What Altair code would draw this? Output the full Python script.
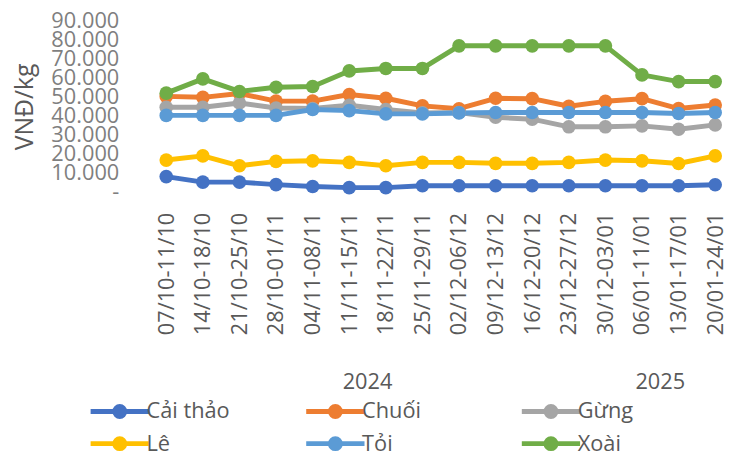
import altair as alt
import pandas as pd

categories = ["07/10-11/10", "14/10-18/10", "21/10-25/10", "28/10-01/11", "04/11-08/11",
              "11/11-15/11", "18/11-22/11", "25/11-29/11", "02/12-06/12", "09/12-13/12",
              "16/12-20/12", "23/12-27/12", "30/12-03/01", "06/01-11/01", "13/01-17/01",
              "20/01-24/01"]

series_names = ["Cải thảo", "Chuối", "Gừng", "Lê", "Tỏi", "Xoài"]
series_colors = ["#4472C4", "#ED7D31", "#A5A5A5", "#FFC000", "#5B9BD5", "#70AD47"]

cai_thao = [7800, 4900, 4900, 3600, 2600, 2000, 2000, 3000, 3000, 3000, 3000, 3000, 3000, 3000, 3000, 3500]
chuoi = [50000, 49500, 51500, 47500, 47500, 51000, 49000, 45000, 43500, 49000, 48800, 44800, 47400, 48800, 43600, 45500]
gung = [44300, 44300, 46500, 43900, 43600, 45300, 43100, 41300, 41500, 39000, 38000, 34000, 34000, 34500, 32700, 35000]
le = [16500, 18700, 13500, 15800, 16100, 15300, 13500, 15300, 15300, 14800, 14800, 15300, 16500, 16100, 14700, 18700]
toi = [40000, 40000, 40000, 40000, 43100, 42500, 40800, 40800, 41300, 41500, 41500, 41500, 41500, 41500, 41000, 41500]
xoai = [51700, 59200, 52600, 54800, 55200, 63400, 64700, 64700, 76600, 76600, 76600, 76600, 76600, 61300, 57800, 57800]

years = ["2024", "2025"]
year_pos = [5.5, 13.5]   # centre of the category span of each year

all_series = [cai_thao, chuoi, gung, le, toi, xoai]
rows = []
for name, vals in zip(series_names, all_series):
    for i, v in enumerate(vals):
        rows.append({"idx": i, "cat": categories[i], "series": name, "value": v})
df = pd.DataFrame(rows)
year_df = pd.DataFrame({"year": years, "pos": year_pos})

FONT = "Open Sans"
label_expr_x = "[" + ",".join("'" + c + "'" for c in categories) + "][datum.value]"

x_scale = alt.Scale(domain=[-0.4865, 15.35], nice=False, zero=False)

legend_symbol = ("M-3.93,0H3.93"
                 "M-0.667,0A0.667,0.667,0,1,0,0.667,0A0.667,0.667,0,1,0,-0.667,0Z"
                 "M-0.333,0A0.333,0.333,0,1,0,0.333,0A0.333,0.333,0,1,0,-0.333,0Z")

x_axis = alt.Axis(values=list(range(len(categories))), labelExpr=label_expr_x,
                  labelAngle=-90, labelPadding=21, ticks=False, tickSize=0,
                  domain=False, grid=False, labelOverlap=False, labelFlush=False,
                  labelSeparation=-40, labelBound=False,
                  labelFont=FONT, labelFontSize=22, labelColor="#595959", title=None)

lines = alt.Chart(df).mark_line(
    strokeWidth=5, strokeJoin="round", strokeCap="round",
    point=alt.OverlayMarkDef(filled=True, size=190, opacity=1)
).encode(
    x=alt.X("idx:Q", scale=x_scale, axis=x_axis),
    y=alt.Y("value:Q", scale=alt.Scale(domain=[0, 90000], nice=False),
            axis=alt.Axis(values=list(range(0, 90001, 10000)),
                          labelExpr="datum.value == 0 ? '-\u2007' : replace(format(datum.value, ','), ',', '.')",
                          labelPadding=30, ticks=False, tickSize=0, domain=False, grid=False,
                          labelOverlap=False, labelSeparation=-40, labelBound=False,
                          labelFont=FONT, labelFontSize=22, labelColor="#7F7F7F",
                          title="VNĐ/kg", titleFont=FONT, titleFontSize=25, titleFontWeight="normal",
                          titleColor="#595959", titleAngle=-90, titleX=-117.5, titleY=87,
                          titleAlign="center", titleBaseline="alphabetic")),
    color=alt.Color("series:N",
                    scale=alt.Scale(domain=series_names, range=series_colors),
                    legend=alt.Legend(
                        orient="none", legendX=-40, legendY=384, columns=3, direction="horizontal",
                        title=None, padding=0,
                        symbolType=legend_symbol,
                        symbolSize=225, symbolStrokeWidth=5, symbolOpacity=1, labelOffset=16,
                        labelFont=FONT, labelFontSize=22, labelColor="#595959",
                        columnPadding=66, rowPadding=1, gridAlign="all", labelLimit=300)),
    order=alt.Order("idx:Q"),
)

year_text = alt.Chart(year_df).mark_text(
    font=FONT, fontSize=22, color="#595959", baseline="middle", align="center"
).encode(
    x=alt.X("pos:Q", scale=x_scale, axis=x_axis),
    y=alt.value(366),
    text="year:N",
)

chart = alt.layer(lines, year_text).properties(
    width=586, height=173,
    padding={"left": 142, "top": 10, "right": 0, "bottom": 264},
    autosize=alt.AutoSizeParams(type="none"),
    background="white",
).configure_view(stroke=None).configure_axis(labelOverlap=False)

chart.save("out.html", embed_options={"renderer": "svg", "actions": False})
